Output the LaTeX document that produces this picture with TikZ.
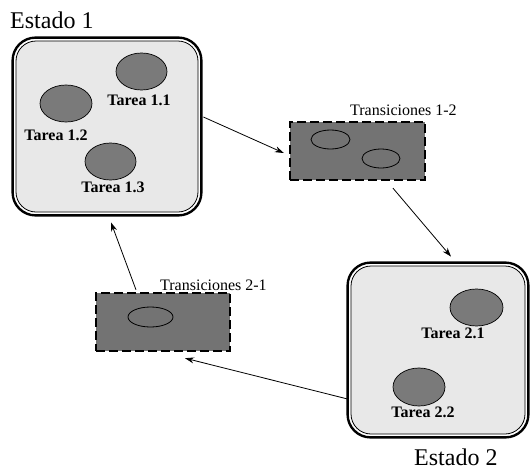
\documentclass[tikz,border=0pt]{standalone}
\usepackage{fontspec}
\setmainfont{Liberation Serif}
\usetikzlibrary{shapes.geometric,arrows.meta}
\begin{document}
\begin{tikzpicture}[x=1pt,y=-1pt,
  statebox/.style={draw, line width=0.8pt, fill=black!9, rounded corners=20pt, inner sep=0pt},
  frame/.style={draw, line width=2.4pt, rounded corners=23pt},
  transbox/.style={draw, line width=2.4pt, dash pattern=on 9pt off 4pt, fill=black!55, inner sep=0pt, minimum width=135pt, minimum height=58pt},
  task/.style={ellipse, draw, line width=0.7pt, fill=black!52, inner sep=0pt},
  tr/.style={ellipse, draw, line width=0.8pt, inner sep=0pt},
  tasklbl/.style={font=\fontsize{16}{18}\selectfont\bfseries, inner sep=0pt, anchor=base},
  translbl/.style={font=\fontsize{16}{18}\selectfont, inner sep=0pt, anchor=base west},
  statelbl/.style={font=\fontsize{24}{28}\selectfont, inner sep=0pt, anchor=base west},
  conn/.style={line width=0.8pt, -{Stealth[length=9pt,width=6pt]}}
]
\useasboundingbox (0,0) rectangle (531,469);
\fill[white] (0,0) rectangle (531,469);

% State 1
\node[statebox, minimum width=182pt, minimum height=171pt] (s1) at (107,126.5) {};
\draw[frame] ([shift={(-3,-3)}]s1.north west) rectangle ([shift={(3,3)}]s1.south east);
\node[statelbl] (e1) at (10,28) {Estado 1};
\node[task, minimum width=51pt, minimum height=37pt] (t11) at (141.5,71.5) {};
\node[tasklbl] (l11) at (139,105) {Tarea 1.1};
\node[task, minimum width=52pt, minimum height=37pt] (t12e) at (66,103.5) {};
\node[tasklbl] (l12) at (56,140) {Tarea 1.2};
\node[task, minimum width=51pt, minimum height=37pt] (t13) at (110.5,161.5) {};
\node[tasklbl] (l13) at (113,192) {Tarea 1.3};

% State 2
\node[statebox, minimum width=174pt, minimum height=168pt] (s2) at (438,350) {};
\draw[frame] ([shift={(-3,-3)}]s2.north west) rectangle ([shift={(3,3)}]s2.south east);
\node[statelbl] (e2) at (414,465) {Estado 2};
\node[task, minimum width=53pt, minimum height=37pt] (t21e) at (476.5,307.5) {};
\node[tasklbl] (l21) at (453,338) {Tarea 2.1};
\node[task, minimum width=52pt, minimum height=38pt] (t22e) at (419,387) {};
\node[tasklbl] (l22) at (423,417) {Tarea 2.2};

% Transitions 1-2
\node[transbox] (tA) at (357.5,151) {};
\node[translbl] (lA) at (350,115) {Transiciones 1-2};
\node[tr, minimum width=39pt, minimum height=19pt] (tA1) at (330.5,139.5) {};
\node[tr, minimum width=38pt, minimum height=19pt] (tA2) at (381,158.5) {};

% Transitions 2-1
\node[transbox, minimum width=134pt] (tB) at (163,322) {};
\node[translbl] (lB) at (160,290) {Transiciones 2-1};
\node[tr, minimum width=45pt, minimum height=20pt] (tB1) at (150.5,317) {};

% Connectors
\draw[conn] ([shift={(5,-9.5)}]s1.east) -- ([shift={(-5,2)}]tA.west);
\draw[conn] ([shift={(35.5,7)}]tA.south) -- ([shift={(13,-9)}]s2.north);
\draw[conn] ([shift={(-3,49)}]s2.west) -- ([shift={(22,6)}]tB.south);
\draw[conn] ([shift={(-27,-2)}]tB.north) -- ([shift={(4,10)}]s1.south);
\end{tikzpicture}
\end{document}
